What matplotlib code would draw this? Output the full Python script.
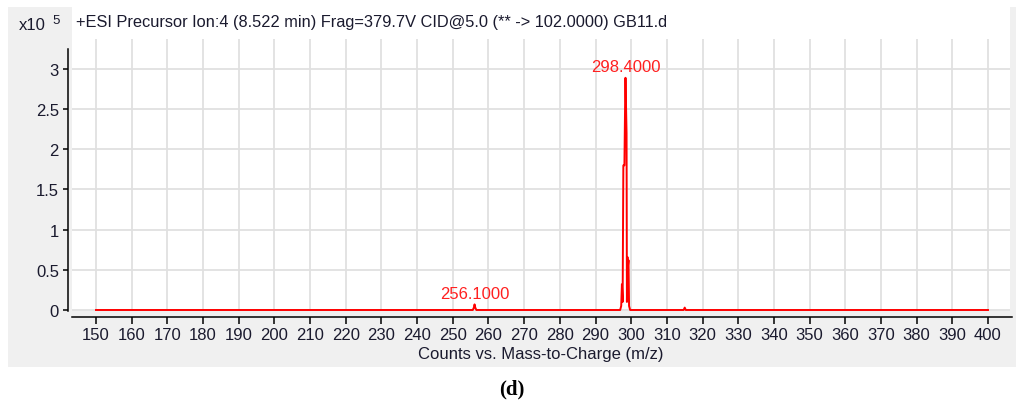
import matplotlib
matplotlib.use("Agg")
import matplotlib.pyplot as plt
from matplotlib.patches import Rectangle

# ---- data ----
mz = [150.0, 255.6, 255.9, 256.1, 256.3, 256.6, 296.9, 297.2, 297.4, 297.6, 297.8,
      298.1, 298.3, 298.4, 298.55, 298.7, 298.8, 298.95, 299.1, 299.25, 299.4,
      299.7, 314.7, 315.0, 315.3, 400.0]
counts = [0.0, 0.0, 0.03, 0.07, 0.03, 0.0, 0.0, 0.05, 0.32, 0.1, 1.8,
          1.8, 2.6, 2.89, 2.54, 2.2, 0.1, 0.66, 0.55, 0.62, 0.05,
          0.0, 0.0, 0.03, 0.0, 0.0]  # x10^5
peak_labels = [256.1, 298.4]
peak_heights = [0.07, 2.89]
x_ticks = list(range(150, 401, 10))
y_ticks = [0, 0.5, 1, 1.5, 2, 2.5, 3]
y_tick_labels = ["0", "0.5", "1", "1.5", "2", "2.5", "3"]
title = "+ESI Precursor Ion:4 (8.522 min) Frag=379.7V CID@5.0 (** -> 102.0000) GB11.d"
xlabel = "Counts vs. Mass-to-Charge (m/z)"

W, H = 1024, 410
fig = plt.figure(figsize=(W / 100, H / 100), dpi=100)
fig.patch.set_facecolor("white")
plt.rcParams["font.family"] = ["Liberation Sans", "DejaVu Sans"]
txt = "#1a1a2e"

def fx(px):
    return px / W

def fy(py):
    return 1 - py / H

# gray panel
fig.patches.append(Rectangle((fx(8), fy(368)), fx(1016) - fx(8), fy(8) - fy(368),
                             transform=fig.transFigure, facecolor="#f0f0f0",
                             edgecolor="none", zorder=-10))
# white title strip
fig.patches.append(Rectangle((fx(72), fy(40)), fx(1010) - fx(72), fy(8) - fy(40),
                             transform=fig.transFigure, facecolor="white",
                             edgecolor="none", zorder=-9))

ax = fig.add_axes([fx(72), fy(312), fx(1010) - fx(72), fy(40) - fy(312)])
ax.set_facecolor("white")
ax.set_xlim(143.27, 406.17)
ax.set_ylim(-0.0125, 3.373)

ax.plot(mz, counts, color="#ff0000", lw=1.4, zorder=3)

for xp, h in zip(peak_labels, peak_heights):
    ax.annotate(f"{xp:.4f}", xy=(xp, h), xytext=(0, 2.5), textcoords="offset points",
                ha="center", va="bottom", color="#ff2020", fontsize=12)

ax.set_xticks(x_ticks)
ax.set_yticks(y_ticks)
ax.set_yticklabels(y_tick_labels)
ax.grid(True, color="#e0e0e0", lw=1.3, zorder=0)
ax.set_axisbelow(True)

for s in ["top", "right"]:
    ax.spines[s].set_visible(False)
ax.spines["left"].set_position(("outward", 2.9))
ax.spines["bottom"].set_position(("outward", 4.3))
ax.spines["left"].set_bounds(-0.0125, 3.25)
ax.spines["bottom"].set_bounds(143.27, 406.7)
for s in ["left", "bottom"]:
    ax.spines[s].set_linewidth(1.1)
    ax.spines[s].set_color("black")

ax.tick_params(axis="y", length=3.6, width=1.1, pad=2.9, labelsize=12, labelcolor=txt)
ax.tick_params(axis="x", length=5, width=1.1, pad=2.5, labelsize=12, labelcolor=txt)

fig.text(fx(76), fy(23), title, ha="left", va="center", fontsize=11.8, color=txt)
fig.text(fx(19), fy(25), "x10", ha="left", va="center", fontsize=12, color=txt)
fig.text(fx(52), fy(21), "5", ha="left", va="center", fontsize=9.5, color=txt)
fig.text(fx(541), fy(355), xlabel, ha="center", va="center", fontsize=12, color=txt)
fig.text(fx(512), fy(389), "(d)", ha="center", va="center", fontsize=15,
         fontweight="bold", family=["Liberation Serif", "DejaVu Serif"], color="black")

fig.savefig("out.png", dpi=100, facecolor="white")
